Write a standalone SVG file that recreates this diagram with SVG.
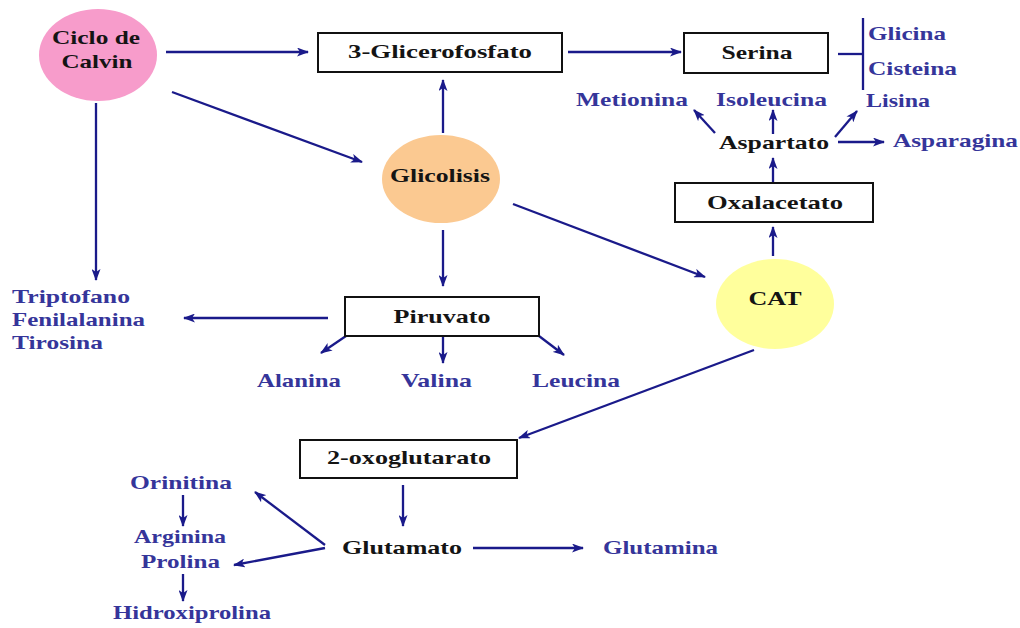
<svg xmlns="http://www.w3.org/2000/svg" width="1020" height="628" viewBox="0 0 1020 628">
<style>
text{font-family:"Liberation Serif","Times New Roman",serif;font-weight:bold;font-size:19px}
.k{fill:#141414}
.b{fill:#35359a}
.box{fill:#fff;stroke:#111;stroke-width:2}
.c{stroke:#1a1a8a;stroke-width:2.3;fill:none}
.a{marker-end:url(#ah)}
</style>
<defs>
<marker id="ah" viewBox="0 0 12 9" refX="11" refY="4.5" markerWidth="12" markerHeight="9" markerUnits="userSpaceOnUse" orient="auto">
<path d="M0,0 L12,4.5 L0,9 L3,4.5 Z" fill="#1a1a8a"/>
</marker>
</defs>
<rect width="1020" height="628" fill="#fff"/>

<g id="connectors">
<line class="c a" x1="166" y1="52" x2="308" y2="52"/>
<line class="c a" x1="568" y1="52" x2="681" y2="52"/>
<line class="c" x1="838" y1="54" x2="863" y2="54"/>
<line class="c" x1="863" y1="18" x2="863" y2="90"/>
<line class="c a" x1="172" y1="92" x2="362" y2="162"/>
<line class="c a" x1="96" y1="103" x2="96" y2="280"/>
<line class="c a" x1="443" y1="133" x2="443" y2="80"/>
<line class="c a" x1="443" y1="230" x2="443" y2="286"/>
<line class="c a" x1="513" y1="204" x2="705" y2="277"/>
<line class="c a" x1="773" y1="256" x2="773" y2="227"/>
<line class="c a" x1="773" y1="183" x2="773" y2="158"/>
<line class="c a" x1="773" y1="134" x2="773" y2="110"/>
<line class="c a" x1="715" y1="133" x2="694" y2="110"/>
<line class="c a" x1="835" y1="137" x2="857" y2="111"/>
<line class="c a" x1="838" y1="142" x2="884" y2="142"/>
<line class="c a" x1="328" y1="318" x2="184" y2="318"/>
<line class="c a" x1="346" y1="336" x2="321" y2="353"/>
<line class="c a" x1="443" y1="337" x2="443" y2="363"/>
<line class="c a" x1="539" y1="336" x2="564" y2="355"/>
<line class="c a" x1="754" y1="350" x2="519" y2="438"/>
<line class="c a" x1="403" y1="485" x2="403" y2="526"/>
<line class="c a" x1="473" y1="548" x2="583" y2="548"/>
<line class="c a" x1="325" y1="545" x2="255" y2="492"/>
<line class="c a" x1="325" y1="548" x2="234" y2="565"/>
<line class="c a" x1="183" y1="495" x2="183" y2="526"/>
<line class="c a" x1="183" y1="574" x2="183" y2="601"/>
</g>

<g id="calvin">
<ellipse cx="98" cy="55" rx="59" ry="46" fill="#f79ccb"/>
<text class="k" x="96" y="44" text-anchor="middle" textLength="88" lengthAdjust="spacingAndGlyphs">Ciclo de</text>
<text class="k" x="97" y="68" text-anchor="middle" textLength="71" lengthAdjust="spacingAndGlyphs">Calvin</text>
</g>
<g id="glicerofosfato">
<rect class="box" x="318" y="33" width="244" height="39"/>
<text class="k" x="440" y="58" text-anchor="middle" textLength="184" lengthAdjust="spacingAndGlyphs">3-Glicerofosfato</text>
</g>
<g id="serina">
<rect class="box" x="684" y="33" width="144" height="40"/>
<text class="k" x="757" y="59" text-anchor="middle" textLength="71" lengthAdjust="spacingAndGlyphs">Serina</text>
</g>
<g id="glicina"><text class="b" x="868" y="40" textLength="78" lengthAdjust="spacingAndGlyphs">Glicina</text></g>
<g id="cisteina"><text class="b" x="868" y="75" textLength="89" lengthAdjust="spacingAndGlyphs">Cisteina</text></g>
<g id="lisina"><text class="b" x="866" y="107" textLength="64" lengthAdjust="spacingAndGlyphs">Lisina</text></g>
<g id="metionina"><text class="b" x="576" y="106" textLength="112" lengthAdjust="spacingAndGlyphs">Metionina</text></g>
<g id="isoleucina"><text class="b" x="716" y="106" textLength="111" lengthAdjust="spacingAndGlyphs">Isoleucina</text></g>
<g id="aspartato"><text class="k" x="719" y="149" textLength="110" lengthAdjust="spacingAndGlyphs">Aspartato</text></g>
<g id="asparagina"><text class="b" x="893" y="147" textLength="125" lengthAdjust="spacingAndGlyphs">Asparagina</text></g>
<g id="oxalacetato">
<rect class="box" x="675" y="183" width="198" height="39"/>
<text class="k" x="775" y="209" text-anchor="middle" textLength="136" lengthAdjust="spacingAndGlyphs">Oxalacetato</text>
</g>
<g id="glicolisis">
<ellipse cx="441" cy="179" rx="59" ry="44" fill="#fbc991"/>
<text class="k" x="440" y="182" text-anchor="middle" textLength="100" lengthAdjust="spacingAndGlyphs">Glicolisis</text>
</g>
<g id="cat">
<ellipse cx="775" cy="304" rx="59" ry="45" fill="#ffff9c"/>
<text class="k" x="775" y="305" text-anchor="middle" textLength="53" lengthAdjust="spacingAndGlyphs">CAT</text>
</g>
<g id="aromaticos">
<text class="b" x="12" y="303" textLength="118" lengthAdjust="spacingAndGlyphs">Triptofano</text>
<text class="b" x="12" y="326" textLength="133" lengthAdjust="spacingAndGlyphs">Fenilalanina</text>
<text class="b" x="12" y="349" textLength="91" lengthAdjust="spacingAndGlyphs">Tirosina</text>
</g>
<g id="piruvato">
<rect class="box" x="345" y="297" width="194" height="39"/>
<text class="k" x="442" y="323" text-anchor="middle" textLength="97" lengthAdjust="spacingAndGlyphs">Piruvato</text>
</g>
<g id="alanina"><text class="b" x="257" y="387" textLength="84" lengthAdjust="spacingAndGlyphs">Alanina</text></g>
<g id="valina"><text class="b" x="401" y="387" textLength="71" lengthAdjust="spacingAndGlyphs">Valina</text></g>
<g id="leucina"><text class="b" x="532" y="387" textLength="88" lengthAdjust="spacingAndGlyphs">Leucina</text></g>
<g id="oxoglutarato">
<rect class="box" x="300" y="440" width="217" height="38"/>
<text class="k" x="409" y="464" text-anchor="middle" textLength="164" lengthAdjust="spacingAndGlyphs">2-oxoglutarato</text>
</g>
<g id="glutamato"><text class="k" x="342" y="554" textLength="120" lengthAdjust="spacingAndGlyphs">Glutamato</text></g>
<g id="glutamina"><text class="b" x="603" y="554" textLength="115" lengthAdjust="spacingAndGlyphs">Glutamina</text></g>
<g id="orinitina"><text class="b" x="130" y="489" textLength="102" lengthAdjust="spacingAndGlyphs">Orinitina</text></g>
<g id="arginina"><text class="b" x="134" y="543" textLength="92" lengthAdjust="spacingAndGlyphs">Arginina</text></g>
<g id="prolina"><text class="b" x="141" y="568" textLength="79" lengthAdjust="spacingAndGlyphs">Prolina</text></g>
<g id="hidroxiprolina"><text class="b" x="113" y="619" textLength="158" lengthAdjust="spacingAndGlyphs">Hidroxiprolina</text></g>
</svg>
